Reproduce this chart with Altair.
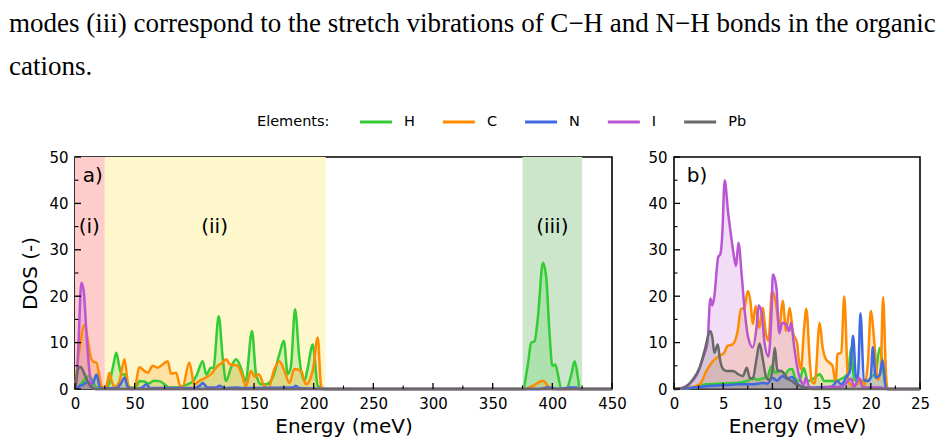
import altair as alt
import pandas as pd

# ---------------- data ----------------
ELEMENTS = ["H", "C", "N", "I", "Pb"]
COLORS = ["#32cd32", "#ff8c00", "#4169e1", "#ba55d3", "#696969"]
LEGEND_TITLE = "Elements:"

TEXT_LINES = [
    "modes (iii) correspond to the stretch vibrations of C\u2212H and N\u2212H bonds in the organic",
    "cations.",
]

# panel a: full spectrum (Energy meV, DOS)
A_H = [(0, 0), (3, 0.5), (7, 1.7), (10, 2.6), (12, 2.8), (14, 2.2), (17, 0.6), (20, 0.2), (26, 0.2),
       (29, 1.5), (32, 5), (34.6, 7.8), (37, 5), (39, 3.1), (41.5, 3.2), (44, 1.0), (47, 0.3), (51, 0.5),
       (54, 1.7), (58, 1.6), (62, 1.2), (66, 1.8), (71, 1.7), (75, 1.0), (79, 0.3), (85, 0.3), (92, 0.8),
       (99, 1.7), (102, 3), (107, 6.0), (110, 3.1), (114, 4.6), (116, 4.5), (120.4, 15.7), (123.8, 6.7),
       (126.6, 1.7), (130.7, 4.6), (135, 6.4), (139, 4.6), (143, 1.7), (148.3, 12.5), (151.7, 3.2),
       (156, 1.0), (160, 1.0), (165.7, 2.5), (171.3, 7.5), (175, 10.4), (178.3, 3.2), (181, 5),
       (184.4, 17.2), (188, 6.7), (192.2, 1.7), (195, 4.5), (199.2, 9.6), (203.4, 0.7), (206, 0.3),
       (210, 0), (375.3, 0), (379.5, 5.3), (382.3, 10), (385.1, 10.3), (387.9, 15.4), (392.1, 27.2),
       (394.9, 24), (397.7, 11.8), (400, 5), (402.5, 5.3), (404.7, 3.1), (407.5, 0), (411.7, 0),
       (415.9, 3.1), (418.7, 6), (421.5, 2.4), (423, 0), (450, 0)]
A_C = [(0, 0), (0.6, 1.7), (3.9, 8.9), (8.1, 13.9), (10.9, 10.3), (13.7, 6.4), (16, 5.8), (17.9, 5.7),
       (20.7, 2.4), (22.9, 0.3), (26, 0.5), (28.8, 3.5), (31, 1.5), (33, 0.5), (37, 1.5), (41.5, 6.4),
       (44.5, 1.0), (47, 0), (50, 0.3), (53.9, 4.7), (58.1, 3.9), (61, 3.5), (65.1, 5.0), (69.3, 4.6),
       (72.1, 5.0), (77.7, 6.0), (80.5, 3.3), (84.7, 3.5), (87.5, 1.0), (90, 0.3), (95.8, 5.7), (100, 1.0),
       (104, 1.7), (110, 2.5), (114, 3.2), (119.6, 5.0), (123, 5.6), (126.6, 6.4), (130, 5.3), (136.4, 5.0),
       (140.5, 2.5), (143.3, 0.6), (147.4, 3.9), (151, 2.6), (154, 3.2), (158.7, 0.6), (162, 0.2),
       (167.1, 4.3), (171.3, 6.0), (175.5, 3.9), (179.7, 1.3), (183.8, 4.3), (189.4, 3.9), (193.6, 1.0),
       (199.2, 3.9), (203.4, 11.1), (206.2, 0.7), (208, 0), (376, 0), (383.7, 0.7), (392.1, 1.8),
       (396.3, 0.7), (400, 0), (450, 0)]
A_N = [(0, 0), (3, 0.5), (7, 1.0), (10.6, 1.5), (13, 1.0), (15, 1.2), (18, 3.1), (20.7, 0.5), (23, 0.1),
       (35, 0.2), (38, 1), (41.6, 2.4), (44, 0.5), (48, 0), (56, 0.3), (59.8, 1.0), (63, 0.2), (100, 0.2),
       (105, 0.8), (107, 1.3), (111, 0.3), (118, 0.3), (121, 0.7), (125, 0.2), (135, 0.3), (140, 0.2),
       (183, 0.3), (185, 0.7), (188, 0.2), (210, 0), (390, 0), (395, 0.3), (400, 0.2), (405, 0),
       (415, 0.3), (420, 0.3), (423, 0), (450, 0)]
A_I = [(0, 0), (1.1, 1.0), (3.1, 11), (5.3, 22.9), (7.3, 21.1), (9.5, 12.5), (11.5, 5.3), (13.7, 1.0),
       (15, 0.3), (18, 0), (450, 0)]
A_PB = [(0, 0), (1, 2), (3, 4.5), (4.5, 4.8), (6, 4.3), (8, 3.2), (10, 2), (12, 1), (14, 0.3), (16, 0),
        (450, 0)]

# panel b: low-energy zoom
B_H = [(0, 0), (1, 0.1), (2, 0.3), (3.3, 1.0), (5, 1.2), (6.7, 1.4), (7.5, 1.8), (8.0, 2.4), (8.5, 2.0),
       (9.0, 2.3), (9.5, 2.6), (9.9, 5.0), (10.3, 3.5), (10.9, 3.9), (11.3, 3.2), (11.7, 4.2), (12.0, 4.3),
       (12.3, 2.5), (12.7, 1.7), (13.2, 4.5), (13.6, 1.7), (14.3, 2.4), (14.8, 3.2), (15.3, 1.7),
       (16.3, 1.7), (17.2, 2.4), (17.7, 3.5), (18.0, 8.9), (18.3, 2.0), (19.0, 1.7), (19.7, 1.8),
       (20.0, 2.5), (20.5, 3.5), (20.9, 8.9), (21.4, 2.0), (21.7, 0), (25, 0)]
B_C = [(0, 0), (1.5, 0.2), (2.6, 1.0), (3.3, 3.9), (4.0, 6.1), (4.6, 7.1), (5.1, 7.8), (5.45, 9.3),
       (5.96, 9.6), (6.47, 12.5), (6.8, 17.2), (7.15, 17.5), (7.5, 21.1), (7.76, 19.0), (8.0, 14.0),
       (8.3, 17.9), (8.67, 13.2), (9.0, 17.5), (9.35, 11.8), (9.6, 10.4), (9.96, 21.1), (10.4, 17.9),
       (10.7, 13.2), (11.04, 19.0), (11.4, 12.5), (11.75, 17.5), (12.1, 12.1), (12.5, 10), (12.7, 6.0),
       (12.9, 4.2), (13.2, 12.5), (13.45, 17.3), (13.8, 6.0), (14.0, 1.7), (14.3, 1.2), (14.8, 14.3),
       (15.1, 9.0), (15.45, 6.4), (15.8, 5.7), (16.1, 5.0), (16.45, 1.4), (16.6, 7.5), (17.0, 7.8),
       (17.3, 20.0), (17.7, 1.7), (18.2, 0.6), (18.6, 1.0), (19.0, 2.0), (19.3, 0.6), (19.7, 5.5),
       (20.0, 16.8), (20.4, 9.0), (20.7, 2.0), (21.0, 4), (21.25, 19.8), (21.55, 3), (21.7, 0), (25, 0)]
B_N = [(0, 0), (1, 0.1), (2, 0.3), (3.3, 0.6), (5, 0.8), (6.7, 1.0), (8, 1.0), (9, 1.3), (9.5, 1.2),
       (10, 2.4), (10.5, 1.8), (11, 2.8), (11.5, 2.2), (12, 2.6), (12.5, 1.2), (13, 0.5), (14, 0.3),
       (15, 0.4), (16, 0.5), (16.6, 1.7), (17.0, 1.0), (17.5, 2.5), (17.9, 4), (18.2, 11.5), (18.5, 2.4),
       (18.7, 3.0), (18.95, 16.3), (19.3, 2.0), (19.7, 1.7), (20.0, 2.5), (20.2, 9.0), (20.5, 2.4),
       (20.9, 3.0), (21.2, 6.2), (21.5, 0.5), (21.7, 0), (25, 0)]
B_I = [(0.5, 0), (1.5, 1), (2.3, 3), (3.0, 7), (3.4, 10), (3.7, 19.5), (3.9, 18), (4.1, 20), (4.5, 28.5),
       (4.7, 29), (4.9, 33), (5.15, 45), (5.5, 38), (5.8, 33), (6.1, 28.5), (6.3, 26.5), (6.55, 31.5),
       (6.9, 24), (7.2, 16.5), (7.5, 11.5), (8.0, 9), (8.4, 13.5), (8.6, 18), (8.9, 16.5), (9.2, 10),
       (9.6, 7), (9.9, 16), (10.05, 24.7), (10.4, 22), (10.7, 12), (11.0, 14.3), (11.4, 13.9), (11.7, 12.5),
       (11.9, 14.3), (12.2, 9.3), (12.6, 3.9), (12.9, 1.7), (13.2, 1.0), (13.4, 2.4), (13.8, 0.2),
       (14.6, 0.2), (16, 0.5), (17, 0.5), (18.0, 2.2), (18.3, 0.5), (18.8, 2.4), (19.2, 0.3), (20, 0.4),
       (21, 0.3), (21.6, 0), (25, 0)]
B_PB = [(0, 0), (1, 0.3), (1.9, 2.0), (2.6, 4.6), (3.1, 8.2), (3.69, 12.5), (3.9, 11.1), (4.1, 7.8),
        (4.45, 9.6), (4.65, 6.7), (4.9, 4.6), (5.3, 3.9), (6.0, 3.9), (6.5, 3.2), (7.0, 2.8), (7.4, 4.6),
        (7.7, 2.4), (8.0, 2.2), (8.4, 6.7), (8.7, 9.8), (9.0, 6.7), (9.4, 2.4), (9.7, 2.0), (10.0, 4),
        (10.25, 8.9), (10.5, 4), (10.9, 3.9), (11.3, 3.0), (11.6, 2.1), (12.0, 1.7), (12.4, 1.0),
        (12.9, 0.6), (13.5, 0.2), (14, 0), (25, 0)]

REGION_START = [0, 25, 375]
REGION_END = [25, 210, 425]
REGION_FILL = ["#ffcccc", "#fff7cc", "#cce6cc"]

A_TAGS = ["a)", "(i)", "(ii)", "(iii)"]
A_TAG_E = [6.5, 12, 117, 400]
A_TAG_DOS = [46, 35, 35, 35]
A_TAG_ALIGN = ["left", "center", "center", "center"]
B_TAGS = ["b)"]
B_TAG_E = [1.3]
B_TAG_DOS = [46]

Y_MAJOR = [0, 10, 20, 30, 40, 50]
Y_MINOR = [5, 15, 25, 35, 45]
XA_MAJOR = list(range(0, 451, 50))
XA_MINOR = list(range(25, 450, 50))
XB_MAJOR = [0, 5, 10, 15, 20, 25]
XB_MINOR = [2.5, 7.5, 12.5, 17.5, 22.5]

# ---------------- layout constants ----------------
WA, WB, H = 537, 246, 232
FONT = "DejaVu Sans"
LEG_FS = 14.5
LEG_Y = -35            # legend centre line, relative to panel-a top
LEG_TITLE_X = 182      # relative to panel-a left
LEG_FIRST_X = 285
LEG_SYM = 32
LEG_LABEL_GAP = 12
LEG_COL_PAD = 28
# approximate DejaVu Sans advance widths (em) for legend labels
CHAR_EM = {"H": 0.752, "C": 0.698, "N": 0.748, "I": 0.295, "P": 0.603, "b": 0.635}


def series_df(series):
    rows = []
    for el, pts in zip(ELEMENTS, series):
        for e, v in pts:
            rows.append({"el": el, "E": e, "dos": v})
    return pd.DataFrame(rows)


color_scale = alt.Scale(domain=ELEMENTS, range=COLORS)
y_scale = alt.Scale(domain=[0, 50], nice=False, zero=False)


def panel(series, xdomain, xmajor, xminor, width, tags, tag_e, tag_dos, tag_align, ytitle, extra):
    xs = alt.Scale(domain=xdomain, nice=False, zero=False)
    xaxis = alt.Axis(values=xmajor, title="Energy (meV)", ticks=False, domain=False, grid=False,
                     labelFont=FONT, labelFontSize=15, labelColor="black", labelPadding=7,
                     labelFlush=False, labelOverlap=False, format="d",
                     titleFont=FONT, titleFontSize=20, titleFontWeight="normal", titleColor="black",
                     titlePadding=5)
    yaxis = alt.Axis(values=Y_MAJOR, title=ytitle, ticks=False, domain=False, grid=False,
                     labelFont=FONT, labelFontSize=15, labelColor="black", labelPadding=7,
                     labelFlush=False, labelOverlap=False,
                     titleFont=FONT, titleFontSize=20, titleFontWeight="normal", titleColor="black",
                     titlePadding=8)
    X = alt.X("E:Q", scale=xs, axis=xaxis)
    Y = alt.Y("dos:Q", scale=y_scale, axis=yaxis, stack=None)

    df = series_df(series)
    area = alt.Chart(df).mark_area(fillOpacity=0.2, interpolate="monotone").encode(
        x=X, y=Y, fill=alt.Fill("el:N", scale=color_scale, legend=None))
    line = alt.Chart(df).mark_line(strokeWidth=2.5, interpolate="monotone").encode(
        x=X, y=Y, color=alt.Color("el:N", scale=color_scale, legend=None))

    ymaj = alt.Chart(pd.DataFrame({"dos": Y_MAJOR})).mark_rule(color="black", strokeWidth=1.3).encode(
        y=Y, x=alt.value(0), x2=alt.value(6))
    ymin = alt.Chart(pd.DataFrame({"dos": Y_MINOR})).mark_rule(color="black", strokeWidth=1.1).encode(
        y=Y, x=alt.value(0), x2=alt.value(3.5))
    xmaj = alt.Chart(pd.DataFrame({"E": xmajor})).mark_rule(color="black", strokeWidth=1.3).encode(
        x=X, y=alt.value(H), y2=alt.value(H - 6))
    xmin = alt.Chart(pd.DataFrame({"E": xminor})).mark_rule(color="black", strokeWidth=1.1).encode(
        x=X, y=alt.value(H), y2=alt.value(H - 3.5))

    tag_df = pd.DataFrame({"t": tags, "E": tag_e, "dos": tag_dos, "al": tag_align})
    layers = list(extra(X))
    layers += [area, line]
    for al in sorted(set(tag_align)):
        sub = tag_df[tag_df["al"] == al]
        layers.append(alt.Chart(sub).mark_text(font=FONT, fontSize=20, align=al, baseline="middle",
                                               color="black").encode(x=X, y=Y, text="t:N"))
    layers += [ymaj, ymin, xmaj, xmin]
    return alt.layer(*layers).properties(width=width, height=H)


def legend_layers():
    one = pd.DataFrame({"k": [0]})
    out = [alt.Chart(pd.DataFrame({"t": [LEGEND_TITLE]})).mark_text(
        font=FONT, fontSize=LEG_FS, align="left", baseline="middle", color="black").encode(
        text="t:N", x=alt.value(LEG_TITLE_X), y=alt.value(LEG_Y))]
    x0 = LEG_FIRST_X
    for el, col in zip(ELEMENTS, COLORS):
        out.append(alt.Chart(one).mark_rule(color=col, strokeWidth=3).encode(
            x=alt.value(x0), x2=alt.value(x0 + LEG_SYM), y=alt.value(LEG_Y)))
        out.append(alt.Chart(pd.DataFrame({"t": [el]})).mark_text(
            font=FONT, fontSize=LEG_FS, align="left", baseline="middle", color="black").encode(
            text="t:N", x=alt.value(x0 + LEG_SYM + LEG_LABEL_GAP), y=alt.value(LEG_Y)))
        lw = sum(CHAR_EM.get(c, 0.6) for c in el) * LEG_FS
        x0 = x0 + LEG_SYM + LEG_LABEL_GAP + lw + LEG_COL_PAD
    return out


def extras_a(X):
    bands = alt.Chart(pd.DataFrame({"E": REGION_START, "E2": REGION_END, "c": REGION_FILL})).mark_rect().encode(
        x=X, x2="E2:Q", y=alt.value(0), y2=alt.value(H), fill=alt.Fill("c:N", scale=None))
    t1 = alt.Chart(pd.DataFrame({"t": [TEXT_LINES[0]]})).mark_text(
        font="Liberation Serif", fontSize=27, align="left", baseline="alphabetic", color="black").encode(
        text="t:N", x=alt.value(-66), y=alt.value(-125))
    t2 = alt.Chart(pd.DataFrame({"t": [TEXT_LINES[1]]})).mark_text(
        font="Liberation Serif", fontSize=27, align="left", baseline="alphabetic", color="black").encode(
        text="t:N", x=alt.value(-66), y=alt.value(-82))
    return [bands, t1, t2] + legend_layers()


def extras_b(X):
    return []


pa = panel([A_H, A_C, A_N, A_I, A_PB], [0, 450], XA_MAJOR, XA_MINOR, WA,
           A_TAGS, A_TAG_E, A_TAG_DOS, A_TAG_ALIGN, "DOS (-)", extras_a)
pb = panel([B_H, B_C, B_N, B_I, B_PB], [0, 25], XB_MAJOR, XB_MINOR, WB,
           B_TAGS, B_TAG_E, B_TAG_DOS, ["left"], None, extras_b)

chart = alt.hconcat(pa, pb, spacing=62, bounds="flush").properties(
    padding={"left": 8, "top": 9, "right": 5, "bottom": 5}, background="white"
).configure_view(stroke="black", strokeWidth=1.6)

chart.save("out.html", embed_options={"renderer": "svg", "actions": False})
